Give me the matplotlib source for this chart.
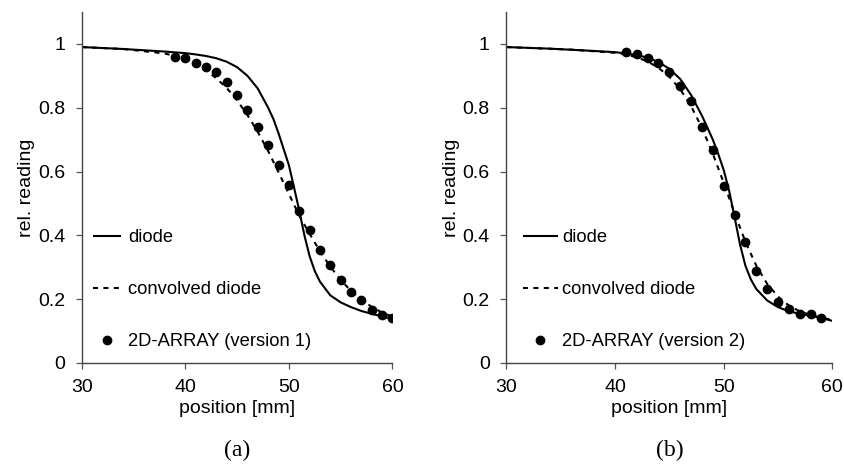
import matplotlib
matplotlib.use("Agg")
import matplotlib.pyplot as plt

plt.rcParams['font.family'] = ['Liberation Sans', 'DejaVu Sans']

# ---------------- data: panel (a) ----------------
a_diode_x = [30, 32, 34, 36, 38, 40, 41, 42, 43, 44, 45, 46, 47, 48, 48.5, 49, 49.5, 50,
             50.5, 51, 51.5, 52, 52.5, 53, 54, 55, 56, 57, 58, 59, 60]
a_diode_y = [0.990, 0.987, 0.984, 0.980, 0.976, 0.971, 0.967, 0.962, 0.955, 0.944, 0.927,
             0.900, 0.860, 0.800, 0.765, 0.720, 0.670, 0.620, 0.550, 0.478, 0.400, 0.335,
             0.288, 0.255, 0.212, 0.190, 0.175, 0.163, 0.154, 0.146, 0.138]
a_conv_x = [30, 34, 38, 39, 40, 41, 42, 43, 44, 45, 46, 47, 48, 49, 50, 51, 52, 53, 54,
            55, 56, 57, 58, 59, 60]
a_conv_y = [0.990, 0.984, 0.970, 0.962, 0.952, 0.937, 0.917, 0.892, 0.862, 0.823, 0.777,
            0.724, 0.664, 0.598, 0.530, 0.462, 0.405, 0.350, 0.302, 0.260, 0.226, 0.198,
            0.176, 0.158, 0.145]
a_array_x = [39, 40, 41, 42, 43, 44, 45, 46, 47, 48, 49, 50, 51, 52, 53, 54, 55, 56, 57,
             58, 59, 60]
a_array_y = [0.958, 0.955, 0.940, 0.927, 0.913, 0.881, 0.839, 0.793, 0.741, 0.684, 0.622,
             0.558, 0.475, 0.417, 0.355, 0.307, 0.260, 0.221, 0.196, 0.166, 0.150, 0.140]

# ---------------- data: panel (b) ----------------
b_diode_x = [30, 34, 38, 40, 41, 42, 43, 44, 45, 46, 47, 48, 48.5, 49, 49.5, 50, 50.5, 51,
             51.5, 52, 52.5, 53, 54, 55, 56, 57, 58, 59, 60]
b_diode_y = [0.990, 0.985, 0.978, 0.974, 0.970, 0.965, 0.957, 0.943, 0.922, 0.890, 0.840,
             0.775, 0.738, 0.700, 0.655, 0.605, 0.540, 0.458, 0.372, 0.305, 0.262, 0.232,
             0.196, 0.175, 0.162, 0.154, 0.148, 0.141, 0.132]
b_conv_x = [30, 36, 40, 41, 42, 43, 44, 45, 46, 47, 48, 49, 50, 51, 52, 53, 54, 55, 56, 57,
            58, 59, 60]
b_conv_y = [0.990, 0.982, 0.972, 0.967, 0.958, 0.945, 0.925, 0.897, 0.858, 0.805, 0.737,
            0.656, 0.565, 0.470, 0.380, 0.305, 0.248, 0.208, 0.180, 0.162, 0.150, 0.142,
            0.135]
b_array_x = [41, 42, 43, 44, 45, 46, 47, 48, 49, 50, 51, 52, 53, 54, 55, 56, 57, 58, 59]
b_array_y = [0.976, 0.968, 0.955, 0.941, 0.912, 0.868, 0.821, 0.740, 0.667, 0.556, 0.464,
             0.379, 0.289, 0.232, 0.192, 0.169, 0.154, 0.152, 0.142]

x_ticks = [30, 40, 50, 60]
y_ticks = [0, 0.2, 0.4, 0.6, 0.8, 1]
y_ticklabels = ["0", "0.2", "0.4", "0.6", "0.8", "1"]
labels_a = ["diode", "convolved diode", "2D-ARRAY (version 1)"]
labels_b = ["diode", "convolved diode", "2D-ARRAY (version 2)"]

fig = plt.figure(figsize=(8.44, 4.75), dpi=100)
ax_a = fig.add_axes([0.0968, 0.2358, 0.3682, 0.739])
ax_b = fig.add_axes([0.5999, 0.2358, 0.3863, 0.739])

FS = 14
LFS = 13.2

def draw(ax, dx, dy, cx, cy, px, py, labels, caption, leg_x, hl, htp):
    l1, = ax.plot(dx, dy, color='black', lw=1.5, solid_capstyle='butt')
    l2, = ax.plot(cx, cy, color='black', lw=1.5, linestyle=(0, (2.4, 2.6)))
    l3, = ax.plot(px, py, linestyle='none', marker='o', color='black', markersize=6.0)
    ax.set_xlim(30, 60)
    ax.set_ylim(0, 1.1)
    ax.set_xticks(x_ticks)
    ax.set_yticks(y_ticks)
    ax.set_yticklabels(y_ticklabels)
    for s in ['top', 'right']:
        ax.spines[s].set_visible(False)
    for s in ['left', 'bottom']:
        ax.spines[s].set_color('#444444')
        ax.spines[s].set_linewidth(1.0)
    ax.tick_params(axis='both', direction='out', length=4, width=0.9,
                   colors='#555555', labelcolor='black', labelsize=FS)
    ax.tick_params(axis='x', pad=7.5)
    ax.tick_params(axis='y', pad=8)
    ax.set_xlabel("position [mm]", fontsize=FS, labelpad=3)
    ax.set_ylabel("rel. reading", fontsize=FS, labelpad=2)
    ax.legend([l1, l2, l3], labels, loc='upper left', bbox_to_anchor=(leg_x, 0.381),
              frameon=False, fontsize=LFS, handlelength=hl, handletextpad=htp,
              labelspacing=1.9, borderpad=0, borderaxespad=0, numpoints=1)
    ax.text(0.5, -0.25, caption, transform=ax.transAxes, ha='center', va='center',
            fontsize=17, family=['Liberation Serif', 'DejaVu Serif'])

draw(ax_a, a_diode_x, a_diode_y, a_conv_x, a_conv_y, a_array_x, a_array_y,
     labels_a, "(a)", 0.036, 1.53, 0.38)
draw(ax_b, b_diode_x, b_diode_y, b_conv_x, b_conv_y, b_array_x, b_array_y,
     labels_b, "(b)", 0.051, 1.9, 0.22)

fig.savefig("out.png", dpi=100)
